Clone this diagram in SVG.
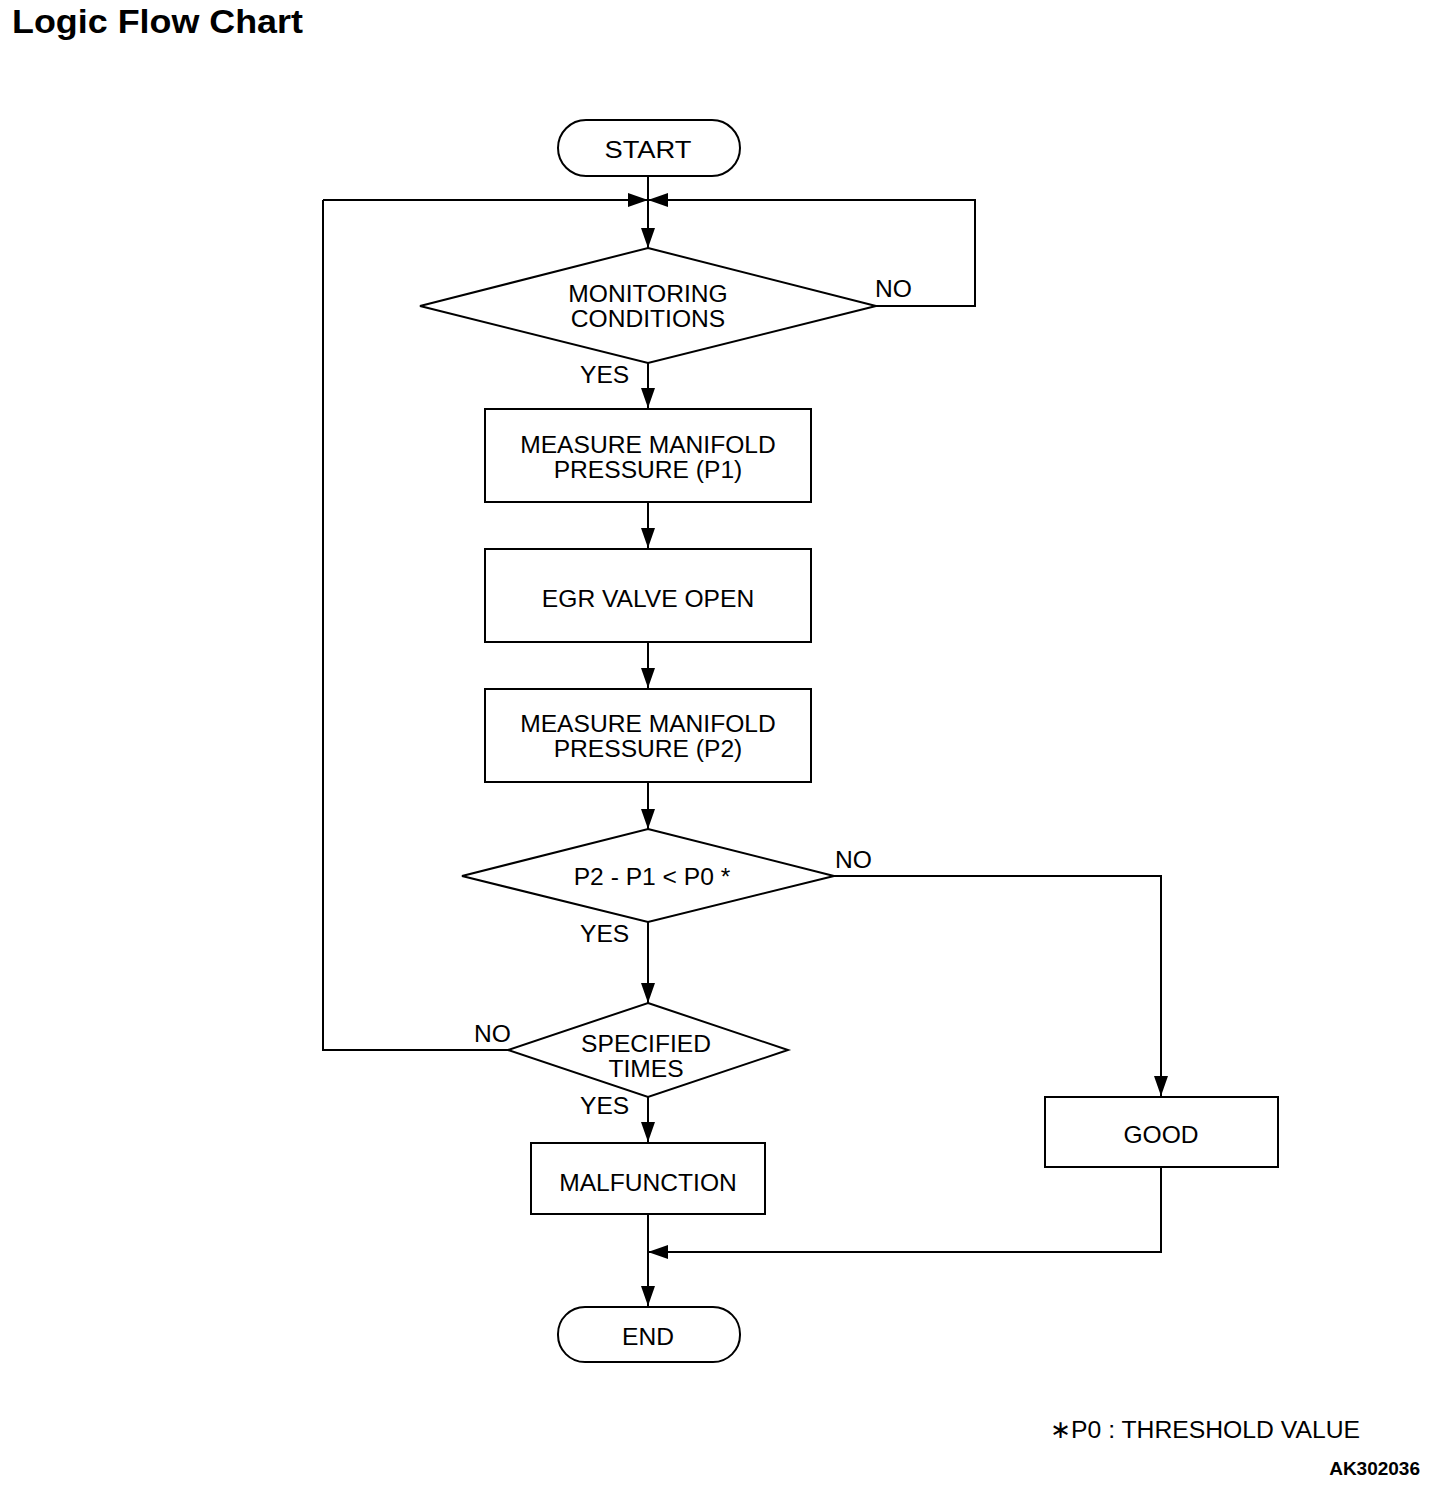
<svg xmlns="http://www.w3.org/2000/svg" width="1440" height="1492" viewBox="0 0 1440 1492">
<style>
.s{fill:#fff;stroke:#000;stroke-width:2}
.c{fill:none;stroke:#000;stroke-width:2}
.t{font-family:"Liberation Sans",Arial,sans-serif;font-size:24.6px;fill:#000;text-anchor:middle;dominant-baseline:central}
.l{font-family:"Liberation Sans",Arial,sans-serif;font-size:24.6px;fill:#000}
</style>
<defs>
<marker id="a" markerUnits="userSpaceOnUse" markerWidth="22" markerHeight="14" refX="20" refY="7" orient="auto">
<path d="M0,0 L20,7 L0,14 Z" fill="#000"/>
</marker>
</defs>
<rect width="1440" height="1492" fill="#fff"/>
<text x="12" y="33" font-family="'Liberation Sans',Arial,sans-serif" font-size="33" font-weight="bold" textLength="291" lengthAdjust="spacingAndGlyphs">Logic Flow Chart</text>

<g id="connectors">
<path class="c" d="M648,176 V248" marker-end="url(#a)"/>
<path class="c" d="M323,200 H648" marker-end="url(#a)"/>
<path class="c" d="M876,306 H975 V200 H648" marker-end="url(#a)"/>
<path class="c" d="M648,363 V408" marker-end="url(#a)"/>
<path class="c" d="M648,502 V548" marker-end="url(#a)"/>
<path class="c" d="M648,642 V688" marker-end="url(#a)"/>
<path class="c" d="M648,782 V829" marker-end="url(#a)"/>
<path class="c" d="M834,876 H1161 V1096" marker-end="url(#a)"/>
<path class="c" d="M648,922 V1003" marker-end="url(#a)"/>
<path class="c" d="M508,1050 H323 V200"/>
<path class="c" d="M648,1097 V1142" marker-end="url(#a)"/>
<path class="c" d="M648,1214 V1306" marker-end="url(#a)"/>
<path class="c" d="M1161,1167 V1252 H648" marker-end="url(#a)"/>
<text class="l" x="875" y="297">NO</text>
<text class="l" x="580" y="383">YES</text>
<text class="l" x="835" y="868">NO</text>
<text class="l" x="580" y="942">YES</text>
<text class="l" x="474" y="1042">NO</text>
<text class="l" x="580" y="1114">YES</text>
</g>

<g id="start">
<rect class="s" x="558" y="120" width="182" height="56" rx="28"/>
<text class="t" x="648" y="149" font-size="28" textLength="87" lengthAdjust="spacingAndGlyphs">START</text>
</g>
<g id="monitoring">
<polygon class="s" points="648,248 876,306 648,363 420,306"/>
<text class="t" x="648" y="293">MONITORING</text>
<text class="t" x="648" y="318">CONDITIONS</text>
</g>
<g id="measure1">
<rect class="s" x="485" y="409" width="326" height="93"/>
<text class="t" x="648" y="444">MEASURE MANIFOLD</text>
<text class="t" x="648" y="469">PRESSURE (P1)</text>
</g>
<g id="egr">
<rect class="s" x="485" y="549" width="326" height="93"/>
<text class="t" x="648" y="598">EGR VALVE OPEN</text>
</g>
<g id="measure2">
<rect class="s" x="485" y="689" width="326" height="93"/>
<text class="t" x="648" y="723">MEASURE MANIFOLD</text>
<text class="t" x="648" y="748">PRESSURE (P2)</text>
</g>
<g id="compare">
<polygon class="s" points="648,829 834,876 648,922 462,876"/>
<text class="t" x="652" y="876">P2 - P1 &lt; P0 *</text>
</g>
<g id="specified">
<polygon class="s" points="648,1003 788,1050 648,1097 508,1050"/>
<text class="t" x="646" y="1043">SPECIFIED</text>
<text class="t" x="646" y="1068">TIMES</text>
</g>
<g id="malfunction">
<rect class="s" x="531" y="1143" width="234" height="71"/>
<text class="t" x="648" y="1182">MALFUNCTION</text>
</g>
<g id="good">
<rect class="s" x="1045" y="1097" width="233" height="70"/>
<text class="t" x="1161" y="1134">GOOD</text>
</g>
<g id="end">
<rect class="s" x="558" y="1307" width="182" height="55" rx="27"/>
<text class="t" x="648" y="1336" font-size="28">END</text>
</g>

<text class="l" x="1050" y="1438" font-size="25" textLength="310" lengthAdjust="spacingAndGlyphs">∗P0 : THRESHOLD VALUE</text>
<text x="1420" y="1475" text-anchor="end" font-family="'Liberation Sans',Arial,sans-serif" font-size="19" font-weight="bold">AK302036</text>
</svg>
